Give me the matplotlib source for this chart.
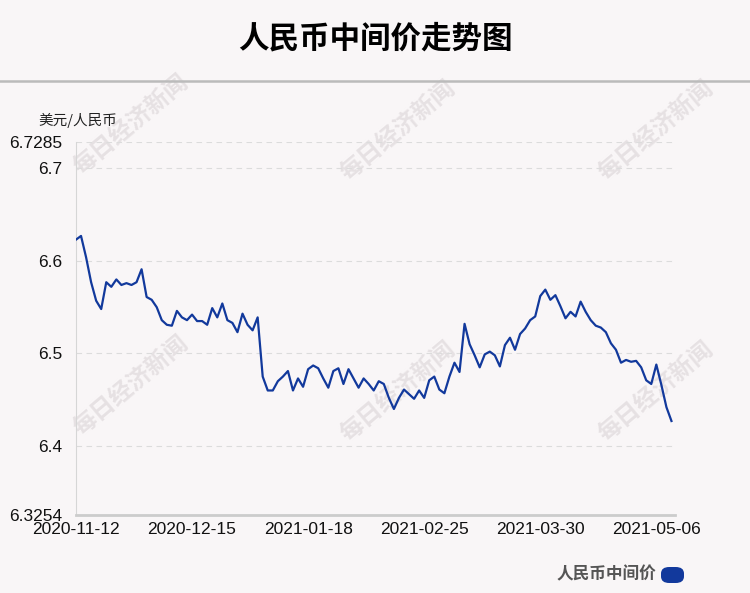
import matplotlib.pyplot as plt
from matplotlib.patches import FancyBboxPatch

# 人民币中间价 (USD/CNY central parity), one value per trading day
values = [
    6.623, 6.627, 6.604, 6.577, 6.557, 6.548, 6.577, 6.572, 6.580, 6.574,
    6.576, 6.574, 6.577, 6.591, 6.561, 6.558, 6.550, 6.536, 6.531, 6.530,
    6.546, 6.539, 6.536, 6.542, 6.535, 6.535, 6.531, 6.549, 6.539, 6.554,
    6.536, 6.533, 6.523, 6.543, 6.531, 6.525, 6.539, 6.475, 6.460, 6.460,
    6.470, 6.475, 6.481, 6.460, 6.473, 6.464, 6.483, 6.487, 6.484, 6.473,
    6.463, 6.481, 6.484, 6.467, 6.483, 6.473, 6.463, 6.473, 6.467, 6.460,
    6.470, 6.467, 6.452, 6.440, 6.452, 6.461, 6.456, 6.451, 6.460, 6.452,
    6.471, 6.475, 6.461, 6.457, 6.475, 6.490, 6.480, 6.532, 6.510, 6.498,
    6.485, 6.499, 6.502, 6.498, 6.486, 6.509, 6.517, 6.504, 6.521, 6.527,
    6.536, 6.540, 6.562, 6.569, 6.558, 6.563, 6.551, 6.538, 6.545, 6.540,
    6.556, 6.545, 6.536, 6.530, 6.528, 6.523, 6.511, 6.504, 6.490, 6.493,
    6.491, 6.492, 6.485, 6.471, 6.467, 6.488, 6.466, 6.442, 6.427,
]
tick_labels = ['2020-11-12', '2020-12-15', '2021-01-18',
               '2021-02-25', '2021-03-30', '2021-05-06']
tick_step = 23
y_min, y_max = 6.3254, 6.7285
y_ticks = [6.3254, 6.4, 6.5, 6.6, 6.7, 6.7285]

bg = '#f9f6f7'
blue = '#12399c'
cjk = ['Noto Sans CJK SC', 'DejaVu Sans']
num_font = ['Liberation Sans Narrow', 'Liberation Sans', 'DejaVu Sans']

fig = plt.figure(figsize=(7.5, 5.93), dpi=100, facecolor=bg)
ax = fig.add_axes([0.1013, 0.1315, 0.7987, 0.629])
ax.patch.set_alpha(0)
ax.set_zorder(2)

# watermarks, behind the chart
for wx, wy in [(0.175, 0.79), (0.53, 0.78), (0.875, 0.78),
               (0.175, 0.35), (0.53, 0.34), (0.875, 0.34)]:
    fig.text(wx, wy, '每日经济新闻', rotation=40, ha='center', va='center',
             fontsize=17, fontweight='bold', color='#e6e1e3',
             family=cjk, zorder=1)

x = list(range(len(values)))
ax.plot(x, values, color=blue, lw=1.6, zorder=3)

ax.set_ylim(y_min, y_max)
ax.set_xlim(0, len(values) - 1 + 0.7)
ax.set_yticks(y_ticks)
ax.set_yticklabels([str(v) for v in y_ticks], family=num_font, fontsize=12.5)
ax.set_xticks(x[::tick_step])
ax.set_xticklabels(tick_labels, family=num_font, fontsize=12.5)
ax.tick_params(length=0, colors='#111111')
ax.tick_params(axis='y', pad=10)
ax.tick_params(axis='x', pad=5)

for v in y_ticks[1:]:
    ax.axhline(v, color='#dcdcdc', lw=0.8, ls=(0, (5, 4)), zorder=1)

for s in ['top', 'right']:
    ax.spines[s].set_visible(False)
ax.spines['left'].set_color('#d6d6d6')
ax.spines['left'].set_linewidth(0.8)
ax.spines['bottom'].set_color('#cccccc')
ax.spines['bottom'].set_linewidth(2)

# title and separator
fig.text(0.5, 0.935, '人民币中间价走势图', ha='center', va='center',
         fontsize=22, fontweight='bold', family=cjk, color='#000000')
fig.add_artist(plt.Line2D([0, 1], [1 - 81 / 593] * 2, color='#bbbbbb', lw=1.8))

fig.text(38 / 750, 1 - 120 / 593, '美元/人民币', ha='left', va='center',
         fontsize=10.5, family=cjk, color='#222222')

# legend
fig.text(656 / 750, 1 - 574 / 593, '人民币中间价', ha='right', va='center',
         fontsize=12, fontweight='bold', family=cjk, color='#555555')
fig.add_artist(FancyBboxPatch((661 / 750, 1 - 583 / 593), 23 / 750, 16 / 593,
                              boxstyle='round,pad=0,rounding_size=0.011',
                              transform=fig.transFigure, facecolor=blue,
                              edgecolor='none'))

fig.savefig('out.png', dpi=100, facecolor=bg)
